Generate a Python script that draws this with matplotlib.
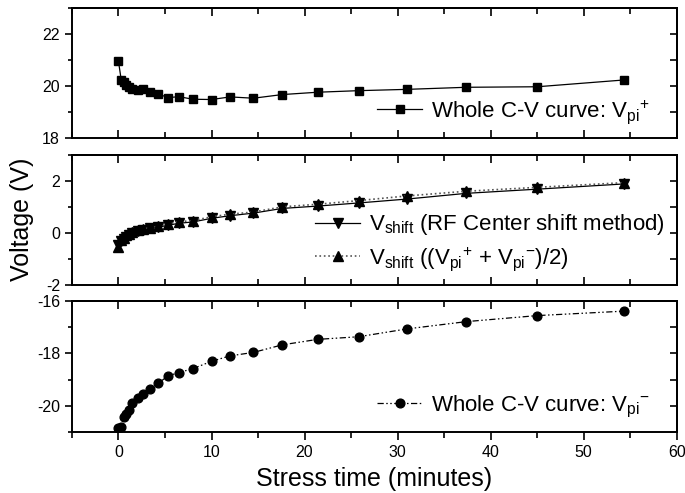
import numpy as np
import matplotlib
matplotlib.use("Agg")
import matplotlib.pyplot as plt
from matplotlib.ticker import MultipleLocator

plt.rcParams['font.family'] = ['Liberation Sans', 'DejaVu Sans']
plt.rcParams['mathtext.default'] = 'regular'
plt.rcParams['axes.unicode_minus'] = False

# stress time (minutes)
t = [0, 0.3, 0.6, 0.85, 1.1, 1.5, 2.1, 2.6, 3.4, 4.3, 5.3, 6.5, 8.0, 10.0,
     12.0, 14.5, 17.6, 21.4, 25.8, 31.0, 37.4, 45.0, 54.3]

vpi_plus = [20.95, 20.23, 20.15, 20.05, 19.97, 19.9, 19.85, 19.87, 19.75, 19.7,
            19.55, 19.59, 19.49, 19.48, 19.58, 19.53, 19.67, 19.76, 19.82, 19.87,
            19.95, 19.97, 20.23]

vshift_rf = [-0.45, -0.33, -0.22, -0.14, -0.07, 0.0, 0.06, 0.11, 0.17, 0.22,
             0.29, 0.37, 0.42, 0.56, 0.66, 0.76, 0.94, 1.03, 1.15, 1.3,
             1.52, 1.68, 1.88]
vshift_avg = [-0.55, -0.28, -0.18, -0.1, -0.03, 0.03, 0.1, 0.15, 0.2, 0.25,
              0.33, 0.43, 0.47, 0.62, 0.72, 0.8, 1.0, 1.1, 1.24, 1.42,
              1.6, 1.75, 1.93]

vpi_minus = [-20.87, -20.8, -20.42, -20.33, -20.17, -19.9, -19.7, -19.54, -19.36,
             -19.14, -18.86, -18.73, -18.58, -18.3, -18.09, -17.96, -17.67,
             -17.46, -17.36, -17.06, -16.78, -16.55, -16.38]

fig = plt.figure(figsize=(6.85, 4.93), dpi=100)
ax1 = fig.add_axes([0.105, 0.720, 0.883, 0.264])
ax2 = fig.add_axes([0.105, 0.422, 0.883, 0.264])
ax3 = fig.add_axes([0.105, 0.124, 0.883, 0.265])

ax1.plot(t, vpi_plus, '-', color='black', lw=0.9, marker='s', ms=5.5,
         label='Whole C-V curve: V$_{pi}{}^{+}$')
ax2.plot(t, vshift_rf, '-', color='black', lw=0.9, marker='v', ms=7,
         label='V$_{shift}$ (RF Center shift method)')
ax2.plot(t, vshift_avg, ':', color='#555555', lw=1.2, marker='^', ms=7,
         markerfacecolor='black', markeredgecolor='black',
         label='V$_{shift}$ ((V$_{pi}{}^{+}$ + V$_{pi}{}^{-}$)/2)')
ax3.plot(t, vpi_minus, color='black', lw=0.9, ls=(0, (5, 2, 1.2, 2, 1.2, 2)),
         marker='o', ms=6.3, label='Whole C-V curve: V$_{pi}{}^{-}$')

ax1.set_ylim(18, 23)
ax2.set_ylim(-2, 3)
ax3.set_ylim(-21, -16)
ax1.set_yticks([18, 20, 22])
ax2.set_yticks([-2, 0, 2])
ax3.set_yticks([-20, -18, -16])

for i, ax in enumerate([ax1, ax2, ax3]):
    ax.set_xlim(-5, 60)
    ax.xaxis.set_major_locator(MultipleLocator(10))
    ax.xaxis.set_minor_locator(MultipleLocator(5))
    ax.yaxis.set_minor_locator(MultipleLocator(1))
    for s in ax.spines.values():
        s.set_linewidth(1.4)
    ax.tick_params(axis='y', which='both', left=True, right=False, direction='out',
                   labelsize=11.5, width=1.2)
    ax.tick_params(axis='y', which='major', length=5)
    ax.tick_params(axis='y', which='minor', length=3)
    # right side ticks point inward
    sec_y = ax.secondary_yaxis('right')
    sec_y.set_yticks(ax.get_yticks())
    sec_y.yaxis.set_minor_locator(MultipleLocator(1))
    sec_y.tick_params(which='both', direction='in', length=5, width=1.2,
                      labelright=False)
    sec_y.spines['right'].set_linewidth(1.4)
    sec_x = ax.secondary_xaxis('top')
    sec_x.xaxis.set_major_locator(MultipleLocator(10))
    sec_x.xaxis.set_minor_locator(MultipleLocator(5))
    sec_x.tick_params(which='major', direction='in', length=6, width=1.2, labeltop=False)
    sec_x.tick_params(which='minor', direction='in', length=4, width=1.2)
    sec_x.spines['top'].set_linewidth(1.4)
    if i < 2:
        ax.tick_params(axis='x', which='both', direction='in', labelbottom=False, width=1.2)
        ax.tick_params(axis='x', which='major', length=6)
        ax.tick_params(axis='x', which='minor', length=4)
    else:
        ax.tick_params(axis='x', which='both', direction='out', labelsize=11.5, width=1.2)
        ax.tick_params(axis='x', which='major', length=6)
        ax.tick_params(axis='x', which='minor', length=4)

leg_kw = dict(frameon=False, fontsize=16, handlelength=2.0, handletextpad=0.4,
              borderaxespad=0.15, labelspacing=0.35)
ax1.legend(loc='lower right', bbox_to_anchor=(0.975, 0.0), **leg_kw)
ax2.legend(loc='lower right', bbox_to_anchor=(1.0, 0.0), **leg_kw)
ax3.legend(loc='lower right', bbox_to_anchor=(0.975, 0.0), **leg_kw)

ax3.set_xticks([0, 10, 20, 30, 40, 50, 60])
ax3.set_xlabel('Stress time (minutes)', fontsize=18, labelpad=5)
fig.text(0.032, 0.555, 'Voltage (V)', rotation=90, fontsize=18,
         ha='center', va='center')

fig.savefig('out.png', dpi=100)
